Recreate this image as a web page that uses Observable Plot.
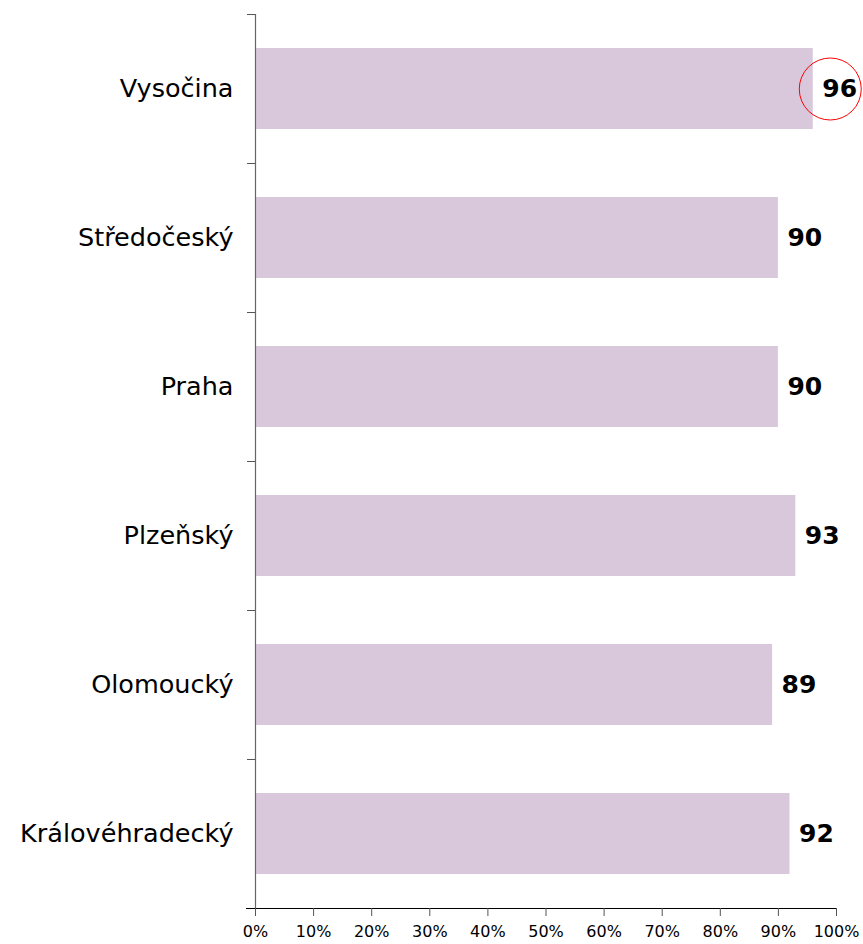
<!DOCTYPE html>
<html><head><meta charset="utf-8">
<script src="https://cdn.jsdelivr.net/npm/d3@7"></script>
<script src="https://cdn.jsdelivr.net/npm/@observablehq/plot@0.6"></script>
<style>body{margin:0;background:#fff} svg{display:block}</style>
</head><body><div id="chart"></div>
<script>
const regions = ["Vysočina", "Středočeský", "Praha", "Plzeňský", "Olomoucký", "Královéhradecký"];
const values = [96, 90, 90, 93, 89, 92];
const xTicks = [0, 10, 20, 30, 40, 50, 60, 70, 80, 90, 100];
const highlighted = ["Vysočina"];

const data = regions.map((r, i) => ({region: r, value: values[i]}));
const width = 863, height = 944, mT = 14, mB = 36, mL = 255, mR = 27;
const step = (height - mT - mB) / regions.length;

const chart = Plot.plot({
  width, height,
  marginTop: mT, marginBottom: mB, marginLeft: mL, marginRight: mR,
  style: {fontFamily: "'DejaVu Sans', Verdana, sans-serif", background: "#fff", color: "#000", overflow: "visible"},
  x: {domain: [0, 100]},
  y: {domain: regions, padding: 0},
  marks: [
    Plot.barX(data, {x: "value", y: "region", fill: "#d9c8dc", insetTop: 34, insetBottom: 34}),
    Plot.ruleX([0], {stroke: "#666", strokeWidth: 1.2}),
    Plot.frame({anchor: "bottom", insetLeft: -9, stroke: "#000"}),
    Plot.axisX({ticks: xTicks, tickFormat: d => d + "%", tickSize: 8, tickPadding: 9, fontSize: 16, stroke: "#555", fill: "#000", label: null}),
    Plot.axisY({tickSize: 8, fill: "none", stroke: "#555", dy: -step / 2, label: null}),
    Plot.axisY({tickSize: 0, tickPadding: 22, fontSize: 25.5, fill: "#000", label: null}),
    Plot.text(data, {x: "value", y: "region", text: d => String(d.value), textAnchor: "start", dx: 9, fontSize: 25, fontWeight: "bold", fill: "#000"}),
    Plot.dot(data.filter(d => highlighted.includes(d.region)), {x: "value", y: "region", r: 31, dx: 17, stroke: "red", fill: "none", strokeWidth: 1})
  ]
});
document.getElementById("chart").appendChild(chart);
</script>
</body></html>
